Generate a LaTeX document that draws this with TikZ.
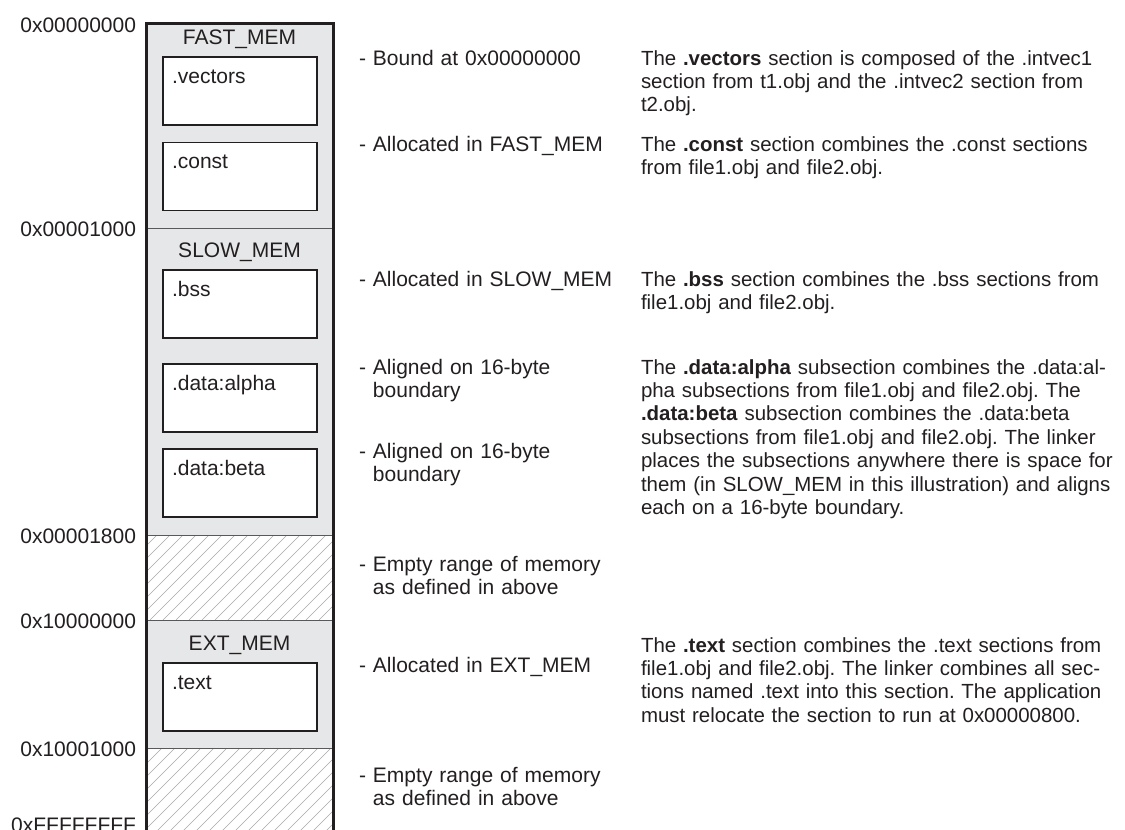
\documentclass[tikz,border=0pt]{standalone}
\usepackage{fontspec}
\setmainfont{Liberation Sans}
\frenchspacing
\definecolor{txt}{HTML}{231F20}
\definecolor{memgray}{HTML}{E6E7E8}
\definecolor{hatchgray}{HTML}{A7A9AC}
\definecolor{sepgray}{HTML}{58595B}
\begin{document}
\begin{tikzpicture}[x=1pt,y=-1pt,
  every node/.style={inner sep=0pt,outer sep=0pt,text=txt,font=\fontsize{21}{23.4}\selectfont},
  region/.style={fill=memgray,draw=none,anchor=north west,minimum width=187pt},
  emptyrange/.style={fill=white,draw=none,anchor=north west,minimum width=187pt},
  secbox/.style={draw=txt,line width=1.8pt,fill=white,anchor=north west,minimum width=154pt,minimum height=68pt},
  seclabel/.style={anchor=base west},
  addr/.style={anchor=base east},
  regtitle/.style={anchor=base},
  note/.style={anchor=base west,align=left,text width=270pt},
  desc/.style={anchor=base west,align=left,text width=600pt,font=\fontsize{20.45}{23.4}\selectfont},
  sepline/.style={draw=sepgray,line width=0.9pt},
  hatchline/.style={draw=hatchgray,line width=0.6pt},
  border/.style={draw=txt,line width=3pt}]
\useasboundingbox (0,0) rectangle (1125,830);
\clip (0,0) rectangle (1125,830);
\fill[white] (0,0) rectangle (1125,830);

% memory regions
\node[region,minimum height=205pt] (fast) at (146,23) {};
\node[region,minimum height=307pt] (slow) at (146,228) {};
\node[emptyrange,minimum height=85pt] (gap1) at (146,535) {};
\node[region,minimum height=128pt] (ext) at (146,620) {};
\node[emptyrange,minimum height=90pt] (gap2) at (146,748) {};

% hatching of empty ranges
\begin{scope}
  \clip (gap1.south west) rectangle (gap1.north east);
  \foreach \k in {0,...,23} \draw[hatchline] ([xshift=\k*13pt-100pt]gap1.south west) -- ++(100,-100);
\end{scope}
\begin{scope}
  \clip (gap2.south west) rectangle (gap2.north east);
  \foreach \k in {0,...,23} \draw[hatchline] ([xshift=\k*13pt-100pt]gap2.south west) -- ++(100,-100);
\end{scope}

% separators
\draw[sepline] (fast.south west) -- (fast.south east);
\draw[sepline] (slow.south west) -- (slow.south east);
\draw[sepline] (gap1.south west) -- (gap1.south east);
\draw[sepline] (ext.south west) -- (ext.south east);

% outer border
\draw[border] (gap2.south west) -- (fast.north west) -- (fast.north east) -- (gap2.south east);

% region titles
\node[regtitle] (fasttitle) at (239.5,44) {FAST\_MEM};
\node[regtitle] (slowtitle) at (239.5,257) {SLOW\_MEM};
\node[regtitle] (exttitle) at (239.5,650) {EXT\_MEM};

% section boxes
\node[secbox] (vectors) at (163,57) {};
\node[secbox] (const) at (163,142.5) {};
\node[secbox] (bss) at (163,270) {};
\node[secbox] (alpha) at (163,364) {};
\node[secbox] (beta) at (163,449) {};
\node[secbox] (text) at (163,663) {};
\node[seclabel] (vectorslbl) at ([xshift=9pt,yshift=-26pt]vectors.north west) {.vectors};
\node[seclabel] (constlbl) at ([xshift=9pt,yshift=-26pt]const.north west) {.const};
\node[seclabel] (bsslbl) at ([xshift=9pt,yshift=-26pt]bss.north west) {.bss};
\node[seclabel] (alphalbl) at ([xshift=9pt,yshift=-26pt]alpha.north west) {.data:alpha};
\node[seclabel] (betalbl) at ([xshift=9pt,yshift=-26pt]beta.north west) {.data:beta};
\node[seclabel] (textlbl) at ([xshift=9pt,yshift=-26pt]text.north west) {.text};

% addresses
\node[addr] (a0) at (136,32) {0x00000000};
\node[addr] (a1) at (136,236) {0x00001000};
\node[addr] (a2) at (136,543) {0x00001800};
\node[addr] (a3) at (136,628.5) {0x10000000};
\node[addr] (a4) at (136,756.5) {0x10001000};
\node[addr] (a5) at (136,832) {0xFFFFFFFF};

% middle notes
\node[note] (n1) at (359,65) {- Bound at 0x00000000};
\node[note] (n2) at (359,151) {- Allocated in FAST\_MEM};
\node[note] (n3) at (359,286) {- Allocated in SLOW\_MEM};
\node[note] (n4) at (359,374) {- Aligned on 16-byte\\\hphantom{-\ }boundary};
\node[note] (n5) at (359,458) {- Aligned on 16-byte\\\hphantom{-\ }boundary};
\node[note] (n6) at (359,571) {- Empty range of memory\\\hphantom{-\ }as defined in above};
\node[note] (n7) at (359,672) {- Allocated in EXT\_MEM};
\node[note] (n8) at (359,782) {- Empty range of memory\\\hphantom{-\ }as defined in above};

% descriptions
\node[desc] (d1) at (641,65) {The \textbf{.vectors} section is composed of the .intvec1\\section from t1.obj and the .intvec2 section from\\t2.obj.};
\node[desc] (d2) at (641,151) {The \textbf{.const} section combines the .const sections\\from file1.obj and file2.obj.};
\node[desc] (d3) at (641,286) {The \textbf{.bss} section combines the .bss sections from\\file1.obj and file2.obj.};
\node[desc] (d4) at (641,374) {The \textbf{.data:alpha} subsection combines the .data:al-\\pha subsections from file1.obj and file2.obj. The\\\textbf{.data:beta} subsection combines the .data:beta\\subsections from file1.obj and file2.obj. The linker\\places the subsections anywhere there is space for\\them (in SLOW\_MEM in this illustration) and aligns\\each on a 16-byte boundary.};
\node[desc] (d5) at (641,652) {The \textbf{.text} section combines the .text sections from\\file1.obj and file2.obj. The linker combines all sec-\\tions named .text into this section. The application\\must relocate the section to run at 0x00000800.};
\end{tikzpicture}
\end{document}
